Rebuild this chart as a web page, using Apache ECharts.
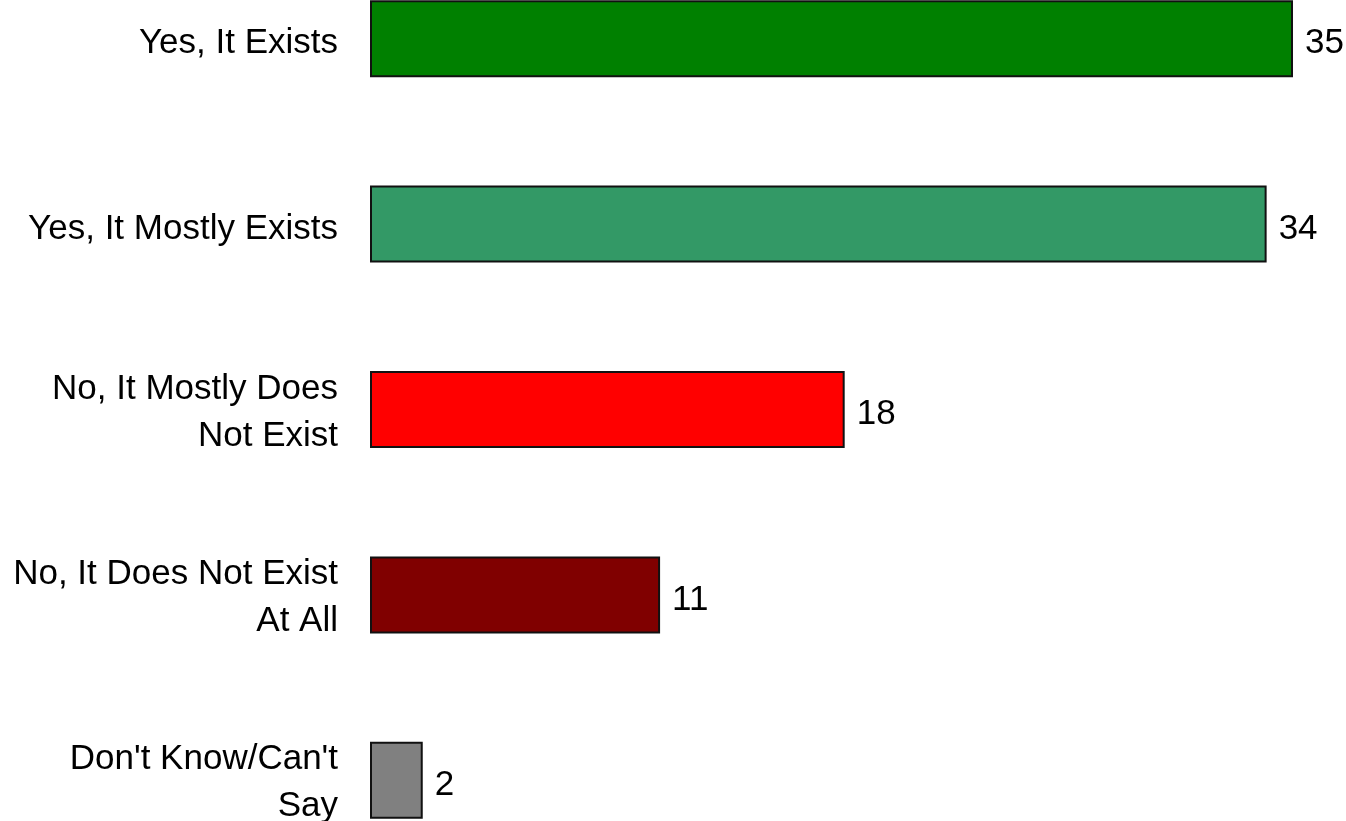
<!DOCTYPE html>
<html>
<head>
<meta charset="utf-8">
<script src="https://cdn.jsdelivr.net/npm/echarts@6/dist/echarts.min.js"></script>
<style>
html,body{margin:0;padding:0;background:#fff;overflow:hidden;width:1346px;height:821px;position:relative;}
#chart{position:absolute;left:0;top:-54px;width:1346px;height:927px;}
</style>
</head>
<body>
<div id="chart"></div>
<script>
const categories = [
  "Yes, It Exists",
  "Yes, It Mostly Exists",
  "No, It Mostly Does\nNot Exist",
  "No, It Does Not Exist\nAt All",
  "Don't Know/Can't\nSay"
];
const values = [35, 34, 18, 11, 2];
const barColors = ["#008000", "#339966", "#FF0000", "#800000", "#808080"];

const chart = echarts.init(document.getElementById('chart'), null, {renderer: 'canvas'});
const FONT = '"Liberation Sans", Arial, sans-serif';
const textStyle = {color: '#000', fontFamily: FONT, fontSize: 35, lineHeight: 47, align: 'right'};
chart.setOption({
  animation: false,
  backgroundColor: '#ffffff',
  grid: {left: 370, right: 53, top: 0, bottom: 0, containLabel: false},
  xAxis: {
    type: 'value', min: 0, max: 35,
    show: false
  },
  yAxis: {
    type: 'category',
    inverse: true,
    data: categories,
    axisLine: {show: false},
    axisTick: {show: false},
    splitLine: {show: false},
    axisLabel: {
      margin: 32,
      color: '#000',
      fontFamily: FONT,
      fontSize: 35,
      lineHeight: 47,
      align: 'right',
      formatter: function (v) {
        const lines = v.split('\n');
        if (lines.length === 1) return '{one|' + lines[0] + '}';
        return lines.map(s => '{multi|' + s + '}').join('\n');
      },
      rich: {
        one: Object.assign({padding: [10, 0, 0, 0]}, textStyle),
        multi: Object.assign({padding: [6, 0, 0, 0]}, textStyle)
      }
    }
  },
  series: [{
    type: 'bar',
    barWidth: 77,
    data: values.map((v, i) => ({
      value: v,
      itemStyle: {color: barColors[i]}
    })),
    itemStyle: {borderColor: '#111', borderWidth: 2},
    label: {
      show: true,
      position: 'right',
      distance: 12,
      offset: [0, 5],
      color: '#000',
      fontFamily: FONT,
      fontSize: 35
    }
  }]
});
</script>
</body>
</html>
